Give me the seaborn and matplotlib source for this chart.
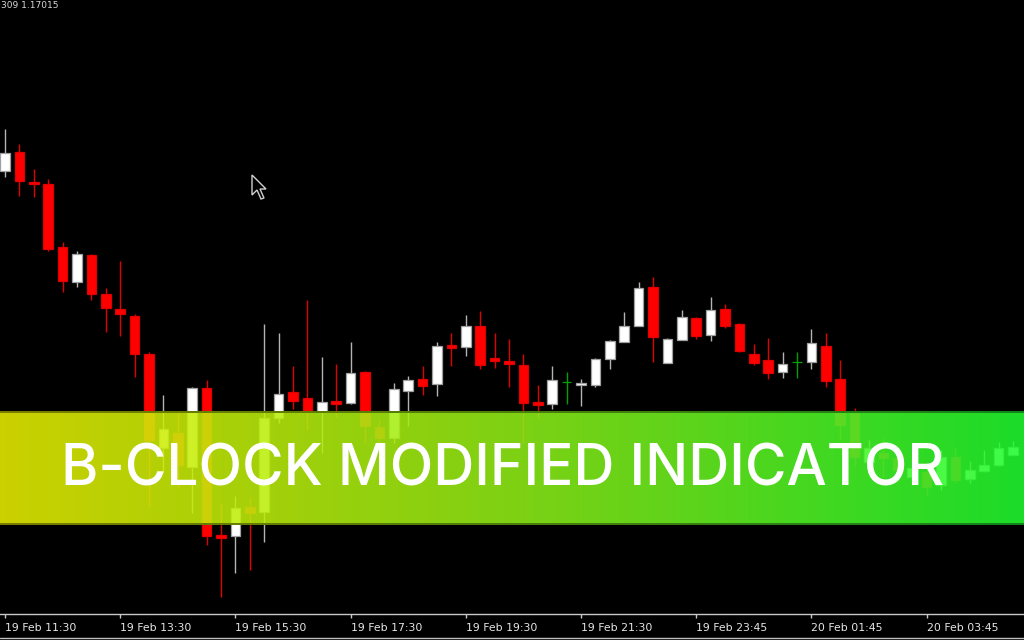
import numpy as np
import pandas as pd
import matplotlib
matplotlib.use("Agg")
import matplotlib.pyplot as plt
import seaborn as sns
from matplotlib.patches import Polygon
from matplotlib.lines import Line2D
from matplotlib.transforms import IdentityTransform

# ---------------- data (EURUSD M15) ----------------
opens = [1.17429, 1.17448, 1.17418, 1.17416, 1.17353, 1.17318, 1.17345, 1.17306, 1.17291, 1.17284,
         1.17246, 1.17152, 1.17167, 1.17133, 1.17212, 1.17065, 1.17064, 1.17093, 1.17088, 1.17182,
         1.17208, 1.17202, 1.17188, 1.17199, 1.17197, 1.17228, 1.17173, 1.17162, 1.17209, 1.17221,
         1.17216, 1.17255, 1.17253, 1.17274, 1.17242, 1.17239, 1.17235, 1.17198, 1.17196, 1.17218,
         1.17215, 1.17215, 1.17241, 1.17258, 1.17274, 1.17313, 1.17237, 1.17260, 1.17282, 1.17265,
         1.17291, 1.17276, 1.17246, 1.17240, 1.17228, 1.17238, 1.17238, 1.17254, 1.17221, 1.17187,
         1.17138, 1.17147, 1.17142, 1.17123, 1.17128, 1.17115, 1.17143, 1.17121, 1.17129, 1.17135,
         1.17145]
highs = [1.17471, 1.17456, 1.17431, 1.17421, 1.17358, 1.17349, 1.17346, 1.17312, 1.17339, 1.17286,
         1.17248, 1.17205, 1.17187, 1.17213, 1.17220, 1.17097, 1.17104, 1.17103, 1.17276, 1.17267,
         1.17234, 1.17300, 1.17243, 1.17236, 1.17258, 1.17229, 1.17180, 1.17217, 1.17224, 1.17234,
         1.17258, 1.17267, 1.17285, 1.17289, 1.17267, 1.17261, 1.17246, 1.17215, 1.17234, 1.17228,
         1.17221, 1.17242, 1.17260, 1.17288, 1.17318, 1.17323, 1.17262, 1.17290, 1.17283, 1.17303,
         1.17296, 1.17277, 1.17256, 1.17262, 1.17248, 1.17248, 1.17271, 1.17267, 1.17240, 1.17192,
         1.17160, 1.17162, 1.17153, 1.17140, 1.17138, 1.17150, 1.17153, 1.17139, 1.17150, 1.17158,
         1.17159]
lows = [1.17423, 1.17404, 1.17403, 1.17349, 1.17308, 1.17313, 1.17300, 1.17268, 1.17264, 1.17223,
        1.17094, 1.17127, 1.17112, 1.17087, 1.17055, 1.17003, 1.17027, 1.17030, 1.17058, 1.17177,
        1.17191, 1.17170, 1.17147, 1.17183, 1.17196, 1.17157, 1.17130, 1.17157, 1.17174, 1.17205,
        1.17204, 1.17234, 1.17244, 1.17231, 1.17232, 1.17213, 1.17157, 1.17182, 1.17191, 1.17196,
        1.17194, 1.17213, 1.17231, 1.17258, 1.17274, 1.17238, 1.17237, 1.17260, 1.17261, 1.17259,
        1.17272, 1.17248, 1.17235, 1.17221, 1.17222, 1.17222, 1.17231, 1.17213, 1.17160, 1.17135,
        1.17127, 1.17123, 1.17118, 1.17115, 1.17105, 1.17110, 1.17117, 1.17117, 1.17128, 1.17134,
        1.17144]
closes = [1.17447, 1.17419, 1.17416, 1.17351, 1.17319, 1.17346, 1.17306, 1.17292, 1.17286, 1.17246,
          1.17160, 1.17171, 1.17135, 1.17212, 1.17064, 1.17062, 1.17092, 1.17087, 1.17182, 1.17206,
          1.17199, 1.17188, 1.17198, 1.17196, 1.17227, 1.17174, 1.17162, 1.17211, 1.17220, 1.17214,
          1.17254, 1.17252, 1.17274, 1.17235, 1.17239, 1.17236, 1.17197, 1.17195, 1.17220, 1.17218,
          1.17217, 1.17241, 1.17259, 1.17274, 1.17312, 1.17263, 1.17261, 1.17283, 1.17264, 1.17290,
          1.17274, 1.17249, 1.17237, 1.17227, 1.17236, 1.17238, 1.17257, 1.17219, 1.17175, 1.17143,
          1.17152, 1.17142, 1.17130, 1.17132, 1.17113, 1.17143, 1.17120, 1.17130, 1.17135, 1.17152,
          1.17153]
tick_bars = [0, 8, 16, 24, 32, 40, 48, 56, 64]
tick_labels = ["19 Feb 11:30", "19 Feb 13:30", "19 Feb 15:30", "19 Feb 17:30", "19 Feb 19:30",
               "19 Feb 21:30", "19 Feb 23:45", "20 Feb 01:45", "20 Feb 03:45"]
header_text = "309 1.17015"
banner_text = "B-CLOCK MODIFIED INDICATOR"

# ---------------- style ----------------
sns.set_theme(style="dark", rc={"axes.facecolor": "black", "figure.facecolor": "black",
                                "axes.edgecolor": "#c0c0c0", "grid.color": "black"})
plt.rcParams['font.family'] = ['DejaVu Sans']

W, H, DPI = 1024, 640, 100
fig = plt.figure(figsize=(W / DPI, H / DPI), dpi=DPI, facecolor="black")
ax = fig.add_axes([0, 26 / H, 1, 614 / H])
ax.set_facecolor("black")

df = pd.DataFrame({"open": opens, "high": highs, "low": lows, "close": closes})
df["bar"] = np.arange(len(df))
bull = df["close"] > df["open"]
bear = df["close"] < df["open"]

body_col = np.where(bull, "#ffffff", np.where(bear, "#ff0000", "#00a000"))
edge_col = np.where(bull, "#a0a0a0", np.where(bear, "#e00000", "#00a000"))
wick_col = np.where(bull, "#b4b4b4", np.where(bear, "#e00000", "#00a000"))

ax.vlines(df["bar"], df["low"], df["high"], colors=wick_col, lw=1.0, zorder=2)
heights = np.maximum((df["close"] - df["open"]).abs(), 1e-7)
bottoms = np.minimum(df["open"], df["close"])
ax.bar(df["bar"], heights, bottom=bottoms, width=0.66, color=body_col,
       edgecolor=edge_col, linewidth=0.9, zorder=3)

px = 14.4
x0 = -5 / px
ax.set_xlim(x0, x0 + W / px)
ax.set_ylim(1.17600 - 614e-5, 1.17600)
ax.set_xticks(tick_bars)
ax.set_xticklabels(tick_labels, ha="left")
ax.set_yticks([])
ax.tick_params(axis="x", colors="#c8c8c8", length=3, width=1, pad=3.5,
               labelsize=7.8, direction="out", bottom=True)
for lab in ax.get_xticklabels():
    lab.set_color("#e6e6e6")
for s in ["top", "left", "right"]:
    ax.spines[s].set_visible(False)
ax.spines["bottom"].set_color("#c8c8c8")
ax.spines["bottom"].set_linewidth(1.0)
ax.grid(False)

# bottom border of the window
fig.add_artist(Line2D([0, 1], [2.5 / H, 2.5 / H], transform=fig.transFigure,
                      color="#c0c0c0", lw=1.0))

# header text at top-left (kept fully visible)
fig.text(1 / W, 1 - 1 / H, header_text, color="#d8d8d8", fontsize=6.5,
         va="top", ha="left")

# mouse cursor
tip = np.array([252, 175])
shape = np.array([[0, 0], [0, 20], [5, 15], [9, 24], [12, 23], [8, 14], [14, 14]])
pts = tip + shape
pts_disp = np.column_stack([pts[:, 0], H - pts[:, 1]])
fig.add_artist(Polygon(pts_disp, closed=True, transform=IdentityTransform(),
                       facecolor="black", edgecolor="#d0d0d0", lw=1.0, zorder=5))

# ---------------- gradient banner ----------------
top_px, bot_px = 411, 525
bh = bot_px - top_px
bax = fig.add_axes([0, (H - bot_px) / H, 1, bh / H], zorder=4)
bax.set_axis_off()
stops_x = np.array([0.0, 0.5, 1.0])
stops_c = np.array([[205, 210, 0], [128, 210, 20], [28, 222, 42]]) / 255.0
xs = np.linspace(0, 1, W)
row = np.column_stack([np.interp(xs, stops_x, stops_c[:, k]) for k in range(3)])
alpha = 0.88
base = np.clip(row / alpha, 0, 1)
img = np.zeros((bh, W, 4))
img[:, :, :3] = base[None, :, :]
img[:, :, 3] = alpha
for r in [0, 1, bh - 2, bh - 1]:
    img[r, :, :3] = row * 0.6
    img[r, :, 3] = 1.0
bax.imshow(img, aspect="auto", extent=[0, 1, 0, 1], interpolation="nearest")
bax.set_xlim(0, 1)
bax.set_ylim(0, 1)

t = fig.text(503 / W, (H - 485) / H, banner_text, color="white", fontsize=36,
             ha="center", va="baseline", family=["Inter", "DejaVu Sans"],
             fontweight="medium", zorder=10)
fig.canvas.draw()
bb = t.get_window_extent()
t.set_fontsize(36 * 882 / bb.width)

fig.savefig("out.png", dpi=DPI, facecolor="black")
